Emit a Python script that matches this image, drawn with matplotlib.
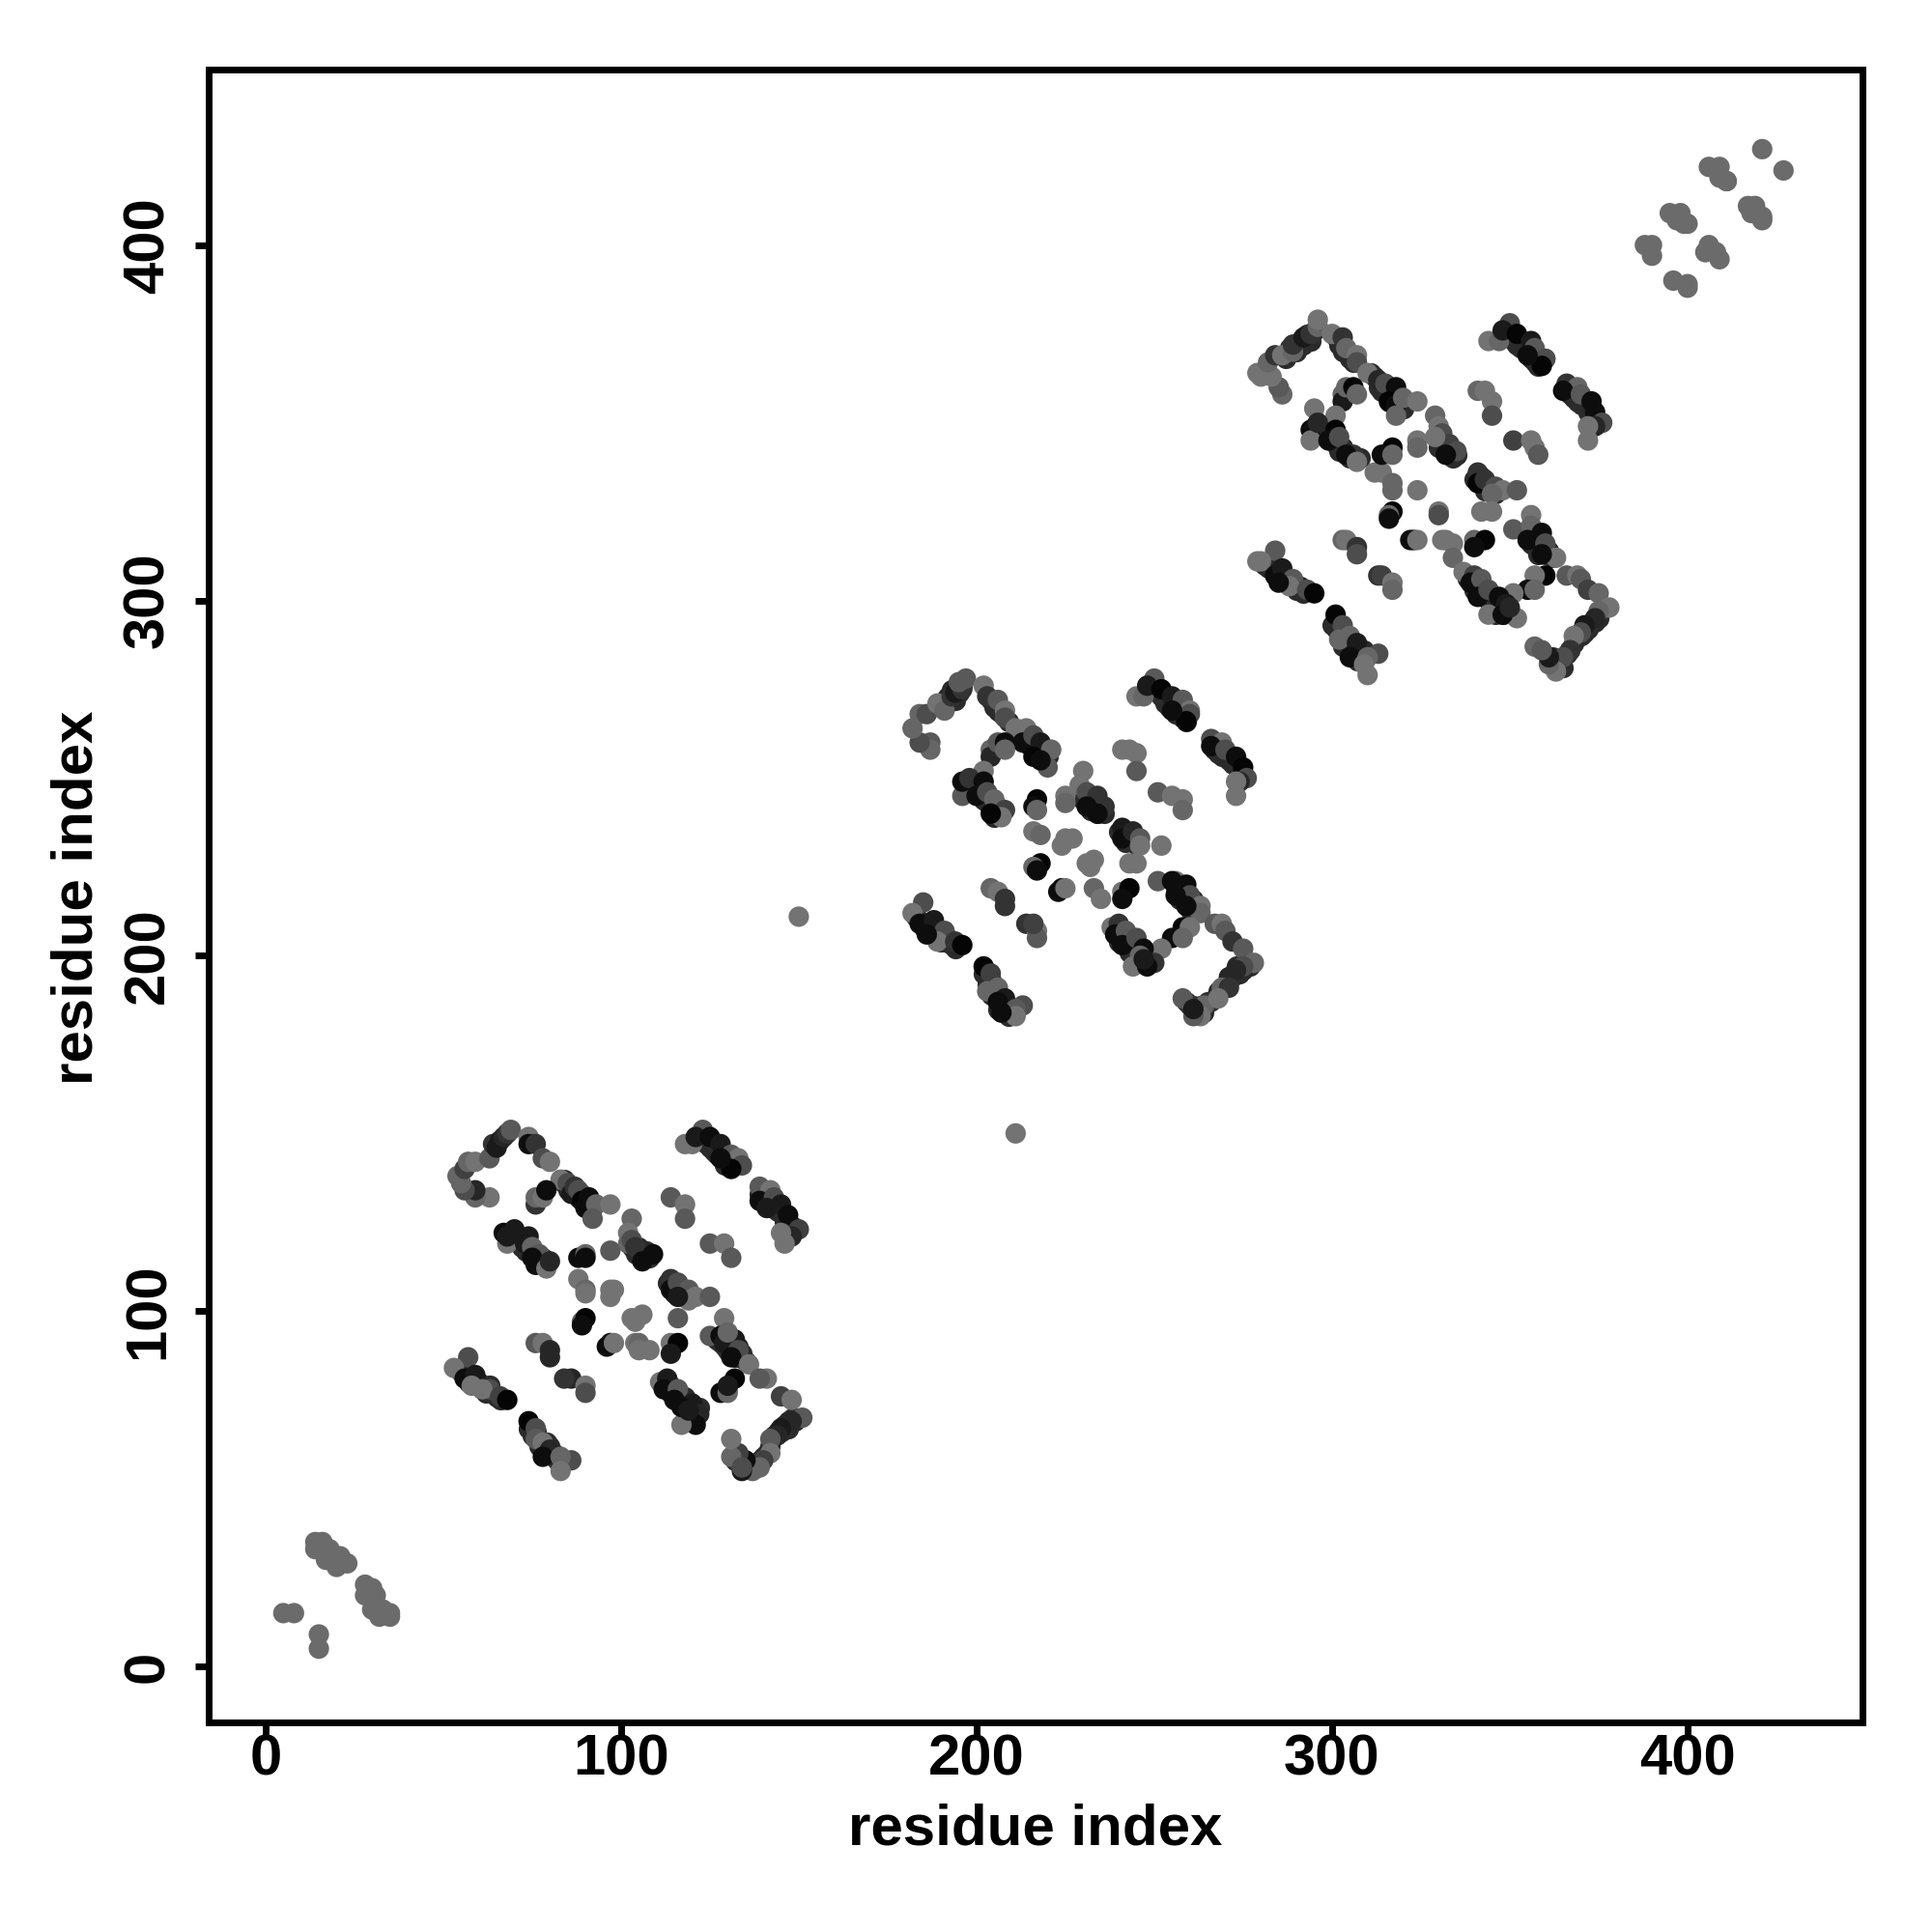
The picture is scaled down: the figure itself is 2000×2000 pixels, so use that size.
import matplotlib
matplotlib.use("Agg")
import matplotlib.pyplot as plt

plt.rcParams['font.family'] = ['Liberation Sans', 'DejaVu Sans']

# contacts, grouped by block (x, y, grey level of each point)
tail_x = [5, 8, 15, 15, 14, 16, 14, 18, 17, 21, 23, 20, 28, 30, 28, 31, 33, 30, 35, 35, 32]
tail_y = [15, 15, 9, 5, 35, 35, 33, 33, 30, 31, 29, 28, 23, 22, 20, 20, 16, 16, 15, 14, 14]
tail_g = [.42] * 21

head_x = [421, 427, 406, 409, 409, 411, 411, 417, 419, 418, 421, 421, 395, 398, 397, 399, 400, 388, 390, 390, 406, 405, 408, 409, 396, 400, 400]
head_y = [427, 421, 422, 422, 419, 418, 418, 411, 411, 409, 408, 407, 409, 409, 407, 406, 406, 400, 400, 397, 400, 398, 398, 396, 390, 389, 388]
head_g = [.42] * 27

lone_x = [150, 211]
lone_y = [211, 150]
lone_g = [.45, .45]

# dark contacts packed inside the strands, they sit under the rest
a_fill_x = [84, 85, 86, 87, 88, 89, 90, 91, 92, 84,
            69, 70, 71, 72, 72, 73, 74, 75, 76, 77, 78, 78, 79,
            103, 104, 105, 106, 107, 108, 105, 107, 104,
            122, 123, 124, 125, 126, 127, 128, 129, 130, 131, 132, 129, 126,
            139, 140, 141, 142, 143, 144, 145, 146, 147, 148, 147, 141, 143, 146,
            113, 114, 115, 116, 117, 118, 115,
            127, 128, 129, 130, 131, 132, 133, 131, 133, 134, 135,
            112, 113, 114, 114, 115, 116, 117, 118, 118, 119, 120, 120, 121, 122, 119, 120,
            149, 148, 147, 146, 145, 144, 143, 142, 141, 140, 139, 138, 136, 135, 133, 132, 149, 147,
            55, 56, 57, 58, 59, 60, 61, 62, 63, 64, 65, 66,
            74, 75, 76, 77, 77, 78, 79, 79, 80, 81, 82, 81]
a_fill_y = [136, 134, 135, 133, 132, 133, 131, 130, 129, 137,
            120, 121, 120, 120, 118, 117, 117, 116, 116, 114, 113, 115, 114,
            118, 117, 116, 116, 115, 115, 118, 117, 116,
            148, 149, 147, 146, 145, 144, 145, 143, 142, 141, 141, 141, 147,
            133, 132, 131, 130, 129, 128, 128, 127, 125, 124, 123, 133, 131, 125,
            108, 107, 108, 106, 105, 104, 105,
            92, 91, 90, 89, 88, 87, 87, 90, 90, 88, 86,
            79, 78, 79, 77, 76, 76, 75, 74, 76, 74, 72, 70, 72, 73, 71, 69,
            70, 70, 69, 68, 66, 66, 65, 62, 60, 59, 58, 56, 56, 56, 58, 58, 69, 67,
            83, 82, 80, 81, 80, 80, 78, 77, 79, 77, 76, 75,
            67, 65, 66, 63, 62, 61, 60, 63, 62, 59, 58, 60]

b_fill_x = [190, 191, 192, 192, 193, 194, 195, 196,
            212, 213, 214, 215, 216, 217, 218, 219, 220, 217, 219,
            197, 198, 199, 200, 201, 202, 203, 204, 205, 206, 207, 205,
            230, 231, 232, 232, 233, 235, 236, 234,
            249, 250, 251, 252, 253, 254, 255, 256, 257, 258, 259, 254,
            267, 268, 269, 270, 271, 272, 273, 274, 275, 274, 269, 272,
            240, 242, 243, 242, 244, 245,
            256, 257, 257, 258, 259, 260, 261, 261, 260,
            239, 240, 241, 242, 243, 243, 244, 245, 246, 246, 247, 248, 249,
            277, 276, 275, 274, 272, 271, 270, 268, 267, 265, 264, 262, 263, 261, 259, 273,
            204, 205, 206, 207, 209,
            183, 184, 185, 186, 187, 188, 189, 190, 191, 192, 193, 194,
            202, 203, 204, 204, 205, 206, 207, 208, 209, 210, 209, 206]
b_fill_y = [270, 272, 271, 273, 275, 272, 274, 276,
            262, 262, 260, 259, 260, 258, 257, 258, 256, 256, 255,
            247, 248, 247, 247, 246, 244, 243, 243, 241, 242, 240, 239,
            244, 244, 243, 241, 242, 241, 240, 240,
            275, 276, 275, 273, 271, 270, 270, 268, 268, 267, 266, 272,
            258, 257, 256, 256, 255, 254, 253, 251, 251, 250, 258, 256,
            235, 234, 233, 232, 232, 231,
            219, 218, 216, 216, 217, 215, 214, 216, 213,
            206, 204, 205, 203, 204, 201, 202, 202, 200, 198, 198, 200, 200,
            197, 198, 196, 195, 194, 193, 192, 190, 188, 187, 184, 184, 186, 186, 187, 197,
            272, 270, 269, 268, 266,
            211, 210, 208, 208, 207, 206, 207, 204, 204, 205, 203, 202,
            195, 192, 193, 189, 189, 188, 186, 185, 186, 185, 183, 185]

c_fill_x = [287, 288, 290, 290, 291, 292, 293, 294, 295,
            301, 302, 303, 305, 306,
            311, 312, 313, 314, 315, 316, 317, 318, 319, 320, 316,
            295, 296, 297, 298, 299, 300, 301, 302, 303, 304, 305, 306, 308,
            330, 331, 332, 333, 334, 335, 330, 332,
            349, 350, 351, 352, 353, 354, 355, 356, 357, 358, 359,
            367, 368, 369, 370, 371, 372, 373, 374, 375, 373, 368,
            340, 342, 343, 344, 345, 346, 342,
            355, 356, 356, 357, 358, 359, 360, 361, 358, 362,
            338, 339, 340, 341, 342, 343, 344, 345, 346, 347, 348, 346,
            377, 376, 375, 374, 373, 372, 371, 370, 368, 367, 366, 364, 365, 363, 362,
            281, 282, 283, 284, 285, 286, 287, 288, 289, 290, 291, 292,
            300, 301, 302, 303, 303, 304, 305, 306, 307, 308, 307, 309]
c_fill_y = [368, 371, 372, 370, 373, 372, 375, 373, 376,
            374, 372, 370, 368, 367,
            364, 363, 360, 359, 359, 358, 357, 358, 355, 354, 356,
            349, 347, 348, 347, 347, 345, 344, 342, 343, 341, 340, 340, 340,
            343, 343, 342, 341, 340, 341, 345, 344,
            375, 374, 373, 372, 371, 371, 370, 368, 367, 366, 367,
            358, 357, 356, 355, 355, 353, 352, 351, 350, 349, 359,
            334, 333, 331, 332, 331, 330, 335,
            319, 318, 316, 315, 316, 315, 313, 314, 313, 312,
            306, 305, 303, 304, 303, 302, 300, 301, 298, 298, 296, 296,
            298, 298, 295, 294, 294, 292, 291, 290, 288, 286, 285, 283, 281, 282, 284,
            310, 309, 309, 307, 307, 306, 305, 306, 304, 303, 304, 302,
            293, 292, 291, 290, 287, 288, 286, 285, 285, 284, 283, 286]

a_x = [63, 59, 59, 56, 54, 55, 56, 57, 59, 63, 64, 65, 66, 67, 68, 69, 74, 74, 76, 78,
       80, 83, 85, 86, 87, 88, 89, 91, 90, 93, 97, 92, 76, 76, 78, 79,
       68, 67, 68, 70, 74, 73, 75, 77, 75, 76, 79, 80,
       88, 90, 90, 97, 88, 90, 90, 97, 98, 97,
       103, 102, 102, 103, 104, 106, 109, 106, 114, 118, 118, 125, 129, 131,
       118, 120, 123, 121, 125, 128, 131, 133, 134, 131, 128,
       139, 142, 139, 143, 145, 147, 150, 148, 145, 146, 141,
       114, 114, 116, 119, 121, 125, 119, 116,
       89, 90, 89, 103, 106, 104, 116,
       129, 125, 128, 132, 129, 133, 131, 136, 130,
       76, 78, 80, 80,
       97, 96, 98, 104, 105, 105, 108, 114, 116, 114,
       57, 53, 56, 59, 58, 63, 61, 66, 68,
       86, 90, 90, 84,
       74, 76, 76, 78, 80, 78, 86, 83, 83,
       111, 113, 112, 116, 115, 120, 122, 121, 117, 117, 119,
       141, 139, 145, 148,
       130, 132, 128, 130, 130,
       151, 148, 145, 144, 142, 142, 140, 139, 137, 134, 135, 133, 131, 131, 134]
a_y = [132, 132, 134, 134, 138, 136, 140, 142, 142, 143, 147, 146, 148, 149, 150, 151, 149, 147, 147, 143,
       142, 137, 136, 133, 135, 134, 131, 132, 129, 130, 130, 126, 130, 132, 132, 134,
       119, 122, 121, 123, 121, 119, 118, 116, 115, 113, 112, 114,
       115, 116, 115, 117, 109, 106, 105, 106, 106, 104,
       126, 122, 119, 120, 118, 115, 116, 114, 132, 130, 126, 119, 119, 115,
       147, 147, 151, 149, 149, 147, 144, 143, 141, 140, 143,
       135, 134, 131, 132, 130, 127, 123, 121, 122, 119, 129,
       109, 106, 108, 106, 104, 104, 103, 104,
       97, 98, 96, 98, 99, 97, 98,
       98, 93, 93, 92, 91, 89, 87, 85, 94,
       91, 91, 89, 87,
       91, 90, 91, 91, 91, 89, 89, 91, 91, 88,
       87, 84, 81, 82, 79, 78, 78, 76, 75,
       81, 79, 77, 81,
       69, 67, 64, 63, 61, 59, 58, 59, 55,
       80, 81, 78, 78, 75, 74, 71, 68, 68, 73, 72,
       81, 81, 76, 75,
       78, 81, 77, 77, 79,
       70, 69, 67, 65, 64, 60, 58, 56, 55, 55, 58, 60, 59, 64, 56]
a_g = [.45, .4, .15, .3, .4, .4, .25, .4, .45, .35, .2, .1, .1, .15, .2, .35, .45, .05, .2, .3,
       .45, .45, .3, .1, .2, .3, .02, .05, .05, .4, .45, .35, .2, .4, .45, .05,
       .45, .05, .1, .1, .1, .1, .4, .35, .05, .05, .45, .15,
       .05, .4, .05, .35, .45, .4, .45, .45, .45, .45,
       .4, .45, .4, .3, .2, .2, .05, .05, .35, .45, .35, .35, .45, .35,
       .45, .45, .35, .1, .05, .1, .35, .45, .3, .02, .05,
       .35, .45, .05, .3, .1, .05, .25, .15, .45, .45, .1,
       .2, .05, .3, .35, .45, .35, .45, .1,
       .4, .02, .05, .45, .45, .45, .35,
       .45, .35, .05, .1, .1, .3, .05, .45, .4,
       .35, .45, .15, .15,
       .05, .05, .45, .45, .4, .45, .45, .45, .02, .1,
       .3, .45, .05, .1, .45, .3, .45, .25, .02,
       .15, .45, .3, .2,
       .02, .3, .35, .45, .15, .05, .3, .4, .45,
       .45, .1, .05, .35, .05, .1, .15, .05, .45, .05, .1,
       .45, .35, .25, .45,
       .45, .02, .05, .4, .1,
       .35, .15, .1, .15, .35, .45, .25, .4, .4, .1, .05, .25, .4, .45, .3]

b_x = [187, 187, 184, 182, 184, 186, 189, 191, 193, 194, 196, 197, 195, 202, 203, 206, 208, 208, 211, 214,
       213, 216, 218, 216, 221, 220, 218, 204, 204, 206, 208, 208, 202,
       196, 196, 198, 202, 200, 203, 205, 208, 207, 204,
       217, 216, 217, 225, 225, 230, 229, 231, 234, 236, 231, 234,
       241, 243, 245, 245, 251, 255, 258, 258,
       245, 247, 250, 248, 252, 255, 258, 260, 260, 259, 255,
       266, 269, 266, 270, 273, 275, 276, 274, 273, 273,
       241, 241, 244, 246, 246, 252, 216, 218, 225, 227, 224,
       218, 216, 217, 231, 233, 232, 243, 245,
       224, 223, 225, 233, 235, 241, 243, 241,
       251, 256, 255, 259, 260, 256, 263, 263, 259,
       204, 206, 208, 208, 214, 217, 217, 216,
       258, 260, 255, 258, 252,
       267, 269, 270, 272, 275,
       278, 275, 273, 271, 269, 271, 266, 264, 263, 261, 260, 258, 261, 268,
       238, 240, 239, 242, 241, 245, 247, 246, 250, 244, 248, 247,
       185, 182, 184, 188, 191, 189, 194, 196, 186,
       202, 204, 206, 203, 208, 206, 213, 211, 211, 207]
b_y = [260, 258, 260, 264, 268, 268, 271, 269, 273, 274, 275, 278, 277, 276, 273, 272, 269, 267, 264, 264,
       260, 262, 260, 256, 258, 253, 255, 258, 256, 260, 260, 258, 252,
       245, 249, 250, 249, 245, 246, 244, 241, 239, 240,
       244, 242, 241, 245, 243, 252, 248, 246, 245, 242, 242, 240,
       258, 258, 257, 252, 246, 245, 244, 241,
       273, 273, 278, 276, 275, 273, 272, 269, 268, 266, 269,
       261, 260, 259, 258, 256, 253, 250, 249, 249, 245,
       236, 233, 235, 233, 231, 231, 235, 234, 233, 233, 231,
       226, 225, 224, 226, 227, 225, 226, 226,
       219, 218, 219, 219, 216, 218, 219, 216,
       221, 221, 221, 220, 217, 217, 214, 212, 214,
       219, 218, 216, 214, 209, 207, 205, 209,
       208, 208, 205, 205, 202,
       209, 209, 207, 204, 202,
       198, 197, 196, 194, 191, 191, 187, 186, 183, 183, 186, 188, 185, 188,
       208, 209, 206, 207, 203, 205, 202, 200, 198, 197, 197, 199,
       215, 212, 209, 210, 207, 204, 204, 203, 206,
       197, 195, 191, 190, 188, 187, 186, 185, 183, 184]
b_g = [.35, .4, .3, .4, .4, .3, .45, .4, .2, .1, .2, .35, .35, .45, .2, .35, .45, .3, .45, .45,
       .05, .3, .1, .02, .4, .35, .05, .4, .15, .35, .05, .4, .45,
       .35, .05, .2, .05, .05, .3, .4, .25, .45, .02,
       .02, .05, .4, .45, .4, .45, .45, .3, .2, .2, .05, .05,
       .45, .45, .45, .35, .35, .45, .45, .4,
       .45, .4, .35, .1, .02, .1, .35, .45, .3, .02, .05,
       .3, .45, .05, .3, .05, .02, .3, .15, .45, .45,
       .1, .05, .15, .35, .45, .45, .45, .4, .45, .45, .45,
       .02, .4, .05, .45, .45, .45, .45, .45,
       .02, .05, .45, .4, .45, .45, .02, .05,
       .35, .45, .05, .05, .3, .05, .45, .4, .05,
       .4, .45, .2, .2, .2, .45, .35, .25,
       .02, .45, .05, .4, .45,
       .35, .45, .35, .2, .35,
       .4, .3, .15, .15, .4, .2, .2, .4, .45, .35, .2, .35, .1, .45,
       .45, .2, .05, .35, .05, .3, .05, .4, .2, .45, .05, .1,
       .3, .45, .05, .1, .3, .45, .2, .02, .05,
       .02, .25, .4, .4, .1, .05, .3, .35, .45, .05]

c_x = [286, 285, 283, 280, 279, 282, 284, 286, 289, 289, 292, 294, 296, 296, 300, 303, 304, 307, 307, 310,
       313, 315, 318, 316, 318, 320, 324, 318,
       303, 303, 304, 306, 307, 295, 301,
       294, 294, 296, 301, 299, 302, 306, 304, 307, 312, 314, 317, 317,
       317, 314, 317, 324, 324, 324,
       329, 330, 331, 333, 335, 329, 332,
       341, 343, 345, 345, 351, 356, 357, 358,
       344, 347, 350, 348, 352, 356, 357, 360, 360, 359, 355,
       366, 369, 365, 370, 373, 374, 376, 374, 372, 372,
       341, 341, 343, 346, 348, 345, 352,
       317, 316, 316, 330, 330, 342, 345,
       323, 322, 324, 331, 332, 334, 334,
       340, 343, 340,
       351, 356, 356, 355, 359, 360, 363, 359,
       303, 304, 307, 307, 313, 314, 317, 317,
       360, 357, 355, 357, 351, 352,
       366, 369, 370, 372, 375,
       378, 375, 374, 371, 370, 368, 367, 365, 363, 361, 361, 357, 359,
       337, 340, 339, 342, 341, 344, 347, 349, 344, 348, 350,
       284, 279, 280, 284, 286, 289, 288, 293, 295, 285,
       301, 303, 305, 302, 307, 305, 313, 310, 310, 309]
c_y = [358, 360, 363, 363, 364, 367, 369, 369, 370, 372, 374, 375, 377, 379, 375, 374, 371, 369, 367, 364,
       362, 361, 360, 356, 355, 357, 356, 352,
       358, 356, 360, 360, 358, 354, 352,
       348, 345, 350, 348, 345, 346, 341, 341, 339, 336, 336, 333, 331,
       343, 341, 341, 345, 343, 331,
       352, 349, 347, 344, 342, 346, 341,
       359, 359, 356, 352, 345, 345, 343, 341,
       373, 373, 378, 376, 375, 373, 371, 368, 368, 366, 369,
       361, 360, 359, 358, 356, 353, 350, 349, 349, 345,
       336, 333, 334, 332, 331, 330, 331,
       325, 324, 323, 325, 324, 325, 325,
       317, 317, 317, 317, 317, 316, 312,
       317, 317, 315,
       320, 324, 321, 317, 319, 316, 312, 313,
       317, 317, 315, 313, 307, 307, 305, 303,
       307, 307, 303, 303, 302, 295,
       307, 307, 306, 303, 302,
       298, 297, 295, 293, 291, 290, 286, 284, 280, 282, 284, 287, 286,
       308, 307, 305, 306, 301, 303, 301, 299, 296, 296, 298,
       314, 311, 311, 307, 309, 306, 304, 303, 302, 305,
       296, 293, 290, 289, 288, 284, 285, 284, 279, 282]
c_g = [.4, .35, .45, .45, .45, .4, .2, .45, .4, .2, .1, .2, .4, .45, .45, .2, .4, .45, .3, .45,
       .15, .3, .05, .02, .05, .4, .45, .4,
       .4, .1, .4, .02, .4, .45, .45,
       .05, .45, .15, .02, .05, .3, .2, .05, .45, .45, .45, .4, .4,
       .02, .05, .4, .45, .4, .45,
       .4, .45, .3, .25, .3, .45, .05,
       .4, .45, .45, .3, .25, .45, .45, .35,
       .45, .4, .3, .1, .02, .1, .35, .4, .3, .02, .05,
       .2, .4, .05, .35, .05, .05, .3, .15, .45, .45,
       .2, .02, .2, .3, .45, .4, .35,
       .02, .4, .05, .45, .3, .45, .45,
       .02, .05, .45, .45, .45, .45, .4,
       .4, .02, .05,
       .35, .45, .4, .05, .05, .3, .45, .05,
       .4, .45, .2, .3, .2, .25, .45, .4,
       .02, .45, .05, .4, .45, .45,
       .35, .45, .35, .25, .4,
       .45, .4, .15, .1, .3, .45, .2, .3, .45, .4, .1, .4, .35,
       .45, .25, .05, .35, .05, .3, .05, .1, .45, .05, .15,
       .35, .45, .45, .05, .1, .35, .45, .3, .02, .05,
       .02, .3, .4, .4, .1, .05, .3, .4, .45, .45]

ticks = [0, 100, 200, 300, 400]

fig = plt.figure(figsize=(10, 10), dpi=200)
ax = fig.add_axes([216 / 2000, 1 - 1783 / 2000, (1928 - 216) / 2000, (1783 - 72) / 2000])

# under layer first
for xs, ys in [(a_fill_x, a_fill_y), (b_fill_x, b_fill_y), (c_fill_x, c_fill_y)]:
    ax.scatter(xs, ys, s=58, c='0.17', linewidths=0, zorder=2)

for xs, ys, gs in [(tail_x, tail_y, tail_g), (a_x, a_y, a_g), (b_x, b_y, b_g),
                   (c_x, c_y, c_g), (head_x, head_y, head_g), (lone_x, lone_y, lone_g)]:
    ax.scatter(xs, ys, s=58, c=[str(g) for g in gs], linewidths=0, zorder=3)

ax.set_xlim(-16, 449.2)
ax.set_ylim(-15.75, 449.4)
ax.set_xticks(ticks)
ax.set_yticks(ticks)
ax.tick_params(length=5, width=2.5, labelsize=21.5)
ax.tick_params(axis='x', pad=-1)
ax.tick_params(axis='y', pad=7.5)
for lab in ax.get_xticklabels():
    lab.set_fontweight('bold')
for lab in ax.get_yticklabels():
    lab.set_fontweight('bold')
    lab.set_rotation(90)
    lab.set_va('center')
for sp in ax.spines.values():
    sp.set_linewidth(2.5)
ax.set_xlabel('residue index', fontsize=21.6, fontweight='bold', va='center')
ax.set_ylabel('residue index', fontsize=21.6, fontweight='bold', va='center')
ax.xaxis.set_label_coords(0.5, -0.0649)
ax.yaxis.set_label_coords(-0.0795, 0.499)

fig.savefig('out.png', dpi=200)
